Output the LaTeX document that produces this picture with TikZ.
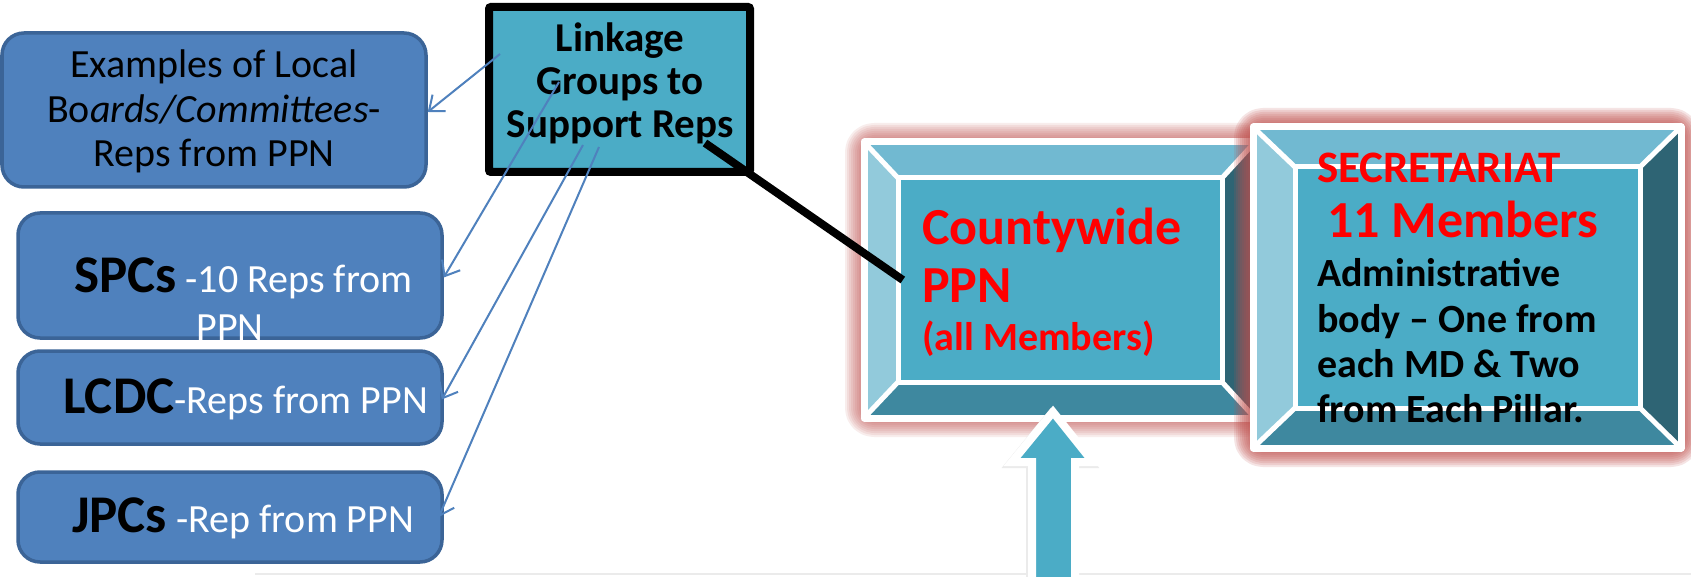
\documentclass[tikz,border=0pt]{standalone}
\usepackage{fontspec}
\setmainfont{Carlito}
\usetikzlibrary{arrows.meta}
\definecolor{boxblue}{HTML}{4F81BD}
\definecolor{boxedge}{HTML}{3B6497}
\definecolor{aqua}{HTML}{4BACC6}
\definecolor{bvtop}{HTML}{71B9D1}
\definecolor{bvleft}{HTML}{92CADB}
\definecolor{bvright}{HTML}{2E6474}
\definecolor{bvbottom}{HTML}{3E889F}
\definecolor{glowred}{HTML}{C0504D}
\definecolor{txtred}{HTML}{FF0000}
\newcommand\fs[1]{\fontsize{#1}{#1}\selectfont}
\newcommand\bevelframe[8]{%
  \fill[bvtop] (#1,#2) -- (#3,#2) -- (#7,#6) -- (#5,#6) -- cycle;
  \fill[bvleft] (#1,#2) -- (#5,#6) -- (#5,#8) -- (#1,#4) -- cycle;
  \fill[bvright] (#3,#2) -- (#7,#6) -- (#7,#8) -- (#3,#4) -- cycle;
  \fill[bvbottom] (#1,#4) -- (#5,#8) -- (#7,#8) -- (#3,#4) -- cycle;
  \fill[aqua] (#5,#6) rectangle (#7,#8);
  \draw[white, line width=5] (#1,#2) -- (#5,#6) (#3,#2) -- (#7,#6) (#1,#4) -- (#5,#8) (#3,#4) -- (#7,#8);
  \draw[white, line width=5] (#5,#6) rectangle (#7,#8);
  \draw[white, line width=7, line join=round] (#1,#2) rectangle (#3,#4);
}
\newcommand\glowrect[5]{%
  \foreach \w in {38,34,...,6}{%
    \draw[glowred, line width=\w, opacity=#5, rounded corners=10, line join=round] (#1,#2) rectangle (#3,#4);}%
}
\tikzset{
  lbox/.style={draw=boxedge, fill=boxblue, line width=3.5, rounded corners=22, inner sep=0},
  linkbox/.style={draw=black, fill=aqua, line width=8, rounded corners=2, inner sep=0},
  txt/.style={inner sep=0, anchor=base},
  txtw/.style={inner sep=0, anchor=base west},
  link/.style={draw=boxblue, line width=2, -{Straight Barb[length=13,width=21,line width=2]}},
}
\begin{document}
\begin{tikzpicture}[x=1pt,y=-1pt]
\useasboundingbox (0,0) rectangle (1691,577);
\fill[white] (0,0) rectangle (1691,577);
\draw[black!8, line width=1.5] (255,574) -- (1691,574);

% left boxes
\node[lbox, minimum width=424, minimum height=154] (ex) at (214,110) {};
\node[lbox, minimum width=424, minimum height=125] (spc) at (230,275.5) {};
\node[lbox, minimum width=424, minimum height=93] (lcdc) at (230,397.5) {};
\node[lbox, minimum width=424, minimum height=90] (jpc) at (230,517) {};

\node[txt] (ex1) at (214,78) {\fs{40}Examples of Local};
\node[txt] (ex2) at (214,123) {\fs{40}Bo\textit{ards/Committees}-};
\node[txt] (ex3) at (214,167) {\fs{40}Reps from PPN};

\node[txtw] (spct) at (74,292) {{\fs{53}\bfseries SPCs}\fs{40} {\color{white}-10 Reps from}};
\node[txt] (spct2) at (230,340) {\fs{40}\color{white}PPN};
\node[txtw] (lcdct) at (63,413) {{\fs{53}\bfseries LCDC}{\fs{40}\color{white}-Reps from PPN}};
\node[txtw] (jpct) at (72,532) {{\fs{53}\bfseries JPCs}\fs{40} {\color{white}-Rep from PPN}};

% linkage box
\node[linkbox, minimum width=261, minimum height=165] (lk) at (619.5,89.5) {};
\node[txt] (lk1) at (620,52) {\fs{41}\bfseries Linkage};
\node[txt] (lk2) at (620,95) {\fs{41}\bfseries Groups to};
\node[txt] (lk3) at (620,138) {\fs{41}\bfseries Support Reps};

\coordinate (s1) at (500,54);
\coordinate (s2) at (559,82);
\coordinate (s3) at (583,145);
\coordinate (s4) at (599,147);
\coordinate (s5) at (705,143);

\draw[link] (s1) -- ([yshift=-2]ex.east);
\draw[link] (s2) -- ([yshift=-2]spc.east);
\draw[link] (s3) -- ([xshift=-2,yshift=-2]lcdc.east);
\draw[link] (s4) -- ([xshift=-5]jpc.east);

% countywide frame
\glowrect{864}{142}{1255}{418}{0.1}
\bevelframe{864}{142}{1255}{418}{898}{178}{1222}{382}
\node[inner sep=0, minimum width=324, minimum height=204] (cw) at (1060,280) {};
\node[txtw] (cw1) at (922,245) {\fs{52}\bfseries\color{txtred}Countywide};
\node[txtw] (cw2) at (922,302) {\fs{52}\bfseries\color{txtred}PPN};
\node[txtw] (cw3) at (922,350) {\fs{40}\bfseries\color{txtred}(all Members)};

\draw[black, line width=8] (s5) -- ([xshift=5]cw.west);

% secretariat frame
\glowrect{1253}{127}{1681}{448}{0.15}
\bevelframe{1253}{127}{1681}{448}{1295}{167}{1640}{408}
\node[inner sep=0, minimum width=345, minimum height=241] (sec) at (1467.5,287.5) {};
\node[txtw] (sec1) at (1317,183) {\fs{45}\bfseries\color{txtred}SECRETARIAT};
\node[txtw] (sec2) at (1327,238) {\fs{52}\bfseries\color{txtred}11 Members};
\node[txtw] (sec3) at (1317,287) {\fs{40}\bfseries Administrative};
\node[txtw] (sec4) at (1317,332) {\fs{40}\bfseries body – One from};
\node[txtw] (sec5) at (1317,377) {\fs{40}\bfseries each MD \& Two};
\node[txtw] (sec6) at (1317,422) {\fs{40}\bfseries from Each Pillar.};

% up arrow
\draw[black!8, line width=8, line join=miter] (1051,414) -- (1091,464) -- (1073,464) -- (1073,590) -- (1030,590) -- (1030,464) -- (1010,464) -- cycle;
\draw[white, fill=aqua, line width=8, line join=miter] (1053,412) -- (1093,462) -- (1075,462) -- (1075,590) -- (1032,590) -- (1032,462) -- (1012,462) -- cycle;
\end{tikzpicture}
\end{document}
